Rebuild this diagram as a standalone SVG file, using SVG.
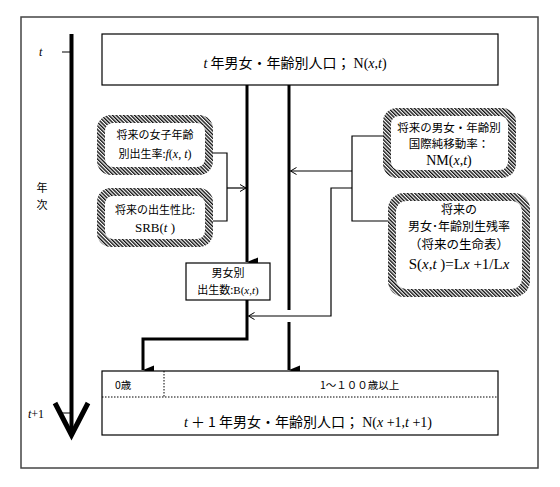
<svg xmlns="http://www.w3.org/2000/svg" width="560" height="487" viewBox="0 0 560 487">
<style>
.jp{font-family:"Noto Sans CJK JP","Noto Sans",sans-serif;fill:#000}
.sr{font-family:"Liberation Serif","Noto Sans CJK JP",serif;fill:#000}
.it{font-style:italic}
.box{fill:#fff;stroke:#000;stroke-width:1.2}
.thick{fill:none;stroke:#000;stroke-width:3}
.thin{fill:none;stroke:#000;stroke-width:1.2}
.dot{fill:none;stroke:#000;stroke-width:1;stroke-dasharray:1.5 1.5}
.hout{fill:url(#hatch)}
.hin{fill:#fff}
</style>
<defs>
<pattern id="hatch" width="2.6" height="2.6" patternUnits="userSpaceOnUse" patternTransform="rotate(-45)">
<rect width="2.6" height="2.6" fill="#fff"/>
<line x1="0.7" y1="0" x2="0.7" y2="2.6" stroke="#000" stroke-width="1.3"/>
</pattern>
<marker id="fa" markerWidth="10" markerHeight="12" refX="5" refY="11" orient="auto-start-reverse" markerUnits="userSpaceOnUse" viewBox="0 0 10 12">
<path d="M0.5,0 L9.5,0 L5,11 Z" fill="#000"/>
</marker>
<marker id="oa" markerWidth="8" markerHeight="8" refX="7" refY="4" orient="auto" markerUnits="userSpaceOnUse" viewBox="0 0 8 8">
<path d="M1,0.5 L7,4 L1,7.5" fill="none" stroke="#000" stroke-width="1"/>
</marker>
</defs>
<rect width="560" height="487" fill="#fff"/>
<rect x="21" y="17" width="517" height="451" fill="none" stroke="#444" stroke-width="1.5"/>

<g id="timeaxis">
<path d="M71.5,34 V432" fill="none" stroke="#000" stroke-width="4"/>
<path d="M55,403 L71.5,435 L88,403" fill="none" stroke="#000" stroke-width="5" stroke-linejoin="miter"/>
<path d="M62,52 H72 M62,413 H72" fill="none" stroke="#000" stroke-width="1.2"/>
<text x="39" y="56" class="sr it" font-size="12">t</text>
<text x="28" y="418" class="sr" font-size="12"><tspan class="it">t</tspan>+1</text>
<text x="42" y="192" class="jp" font-size="11" text-anchor="middle">年</text>
<text x="42" y="209" class="jp" font-size="11" text-anchor="middle">次</text>
</g>

<g id="connectors">
<path class="thick" d="M247,85 V262" marker-end="url(#fa)"/>
<path class="thick" d="M289,85 V310"/>
<path class="thick" d="M289,322 V370" marker-end="url(#fa)"/>
<path class="thick" d="M247,300 V339 H143 V370" marker-end="url(#fa)"/>
<path class="thin" d="M213,153 H227 V221 H213"/>
<path class="thin" d="M227,188 H246" marker-end="url(#oa)"/>
<path class="thin" d="M383,136 H352 V221 H389"/>
<path class="thin" d="M352,171 H290.5" marker-end="url(#oa)"/>
<path class="thin" d="M352,188 H331 V316 H248.5" marker-end="url(#oa)"/>
</g>

<g id="top">
<rect class="box" x="102" y="34" width="396" height="51"/>
<text x="295" y="68" class="jp" font-size="14" text-anchor="middle"><tspan class="sr it">t</tspan> 年男女・年齢別人口； <tspan class="sr">N(</tspan><tspan class="sr it">x</tspan><tspan class="sr">,</tspan><tspan class="sr it">t</tspan><tspan class="sr">)</tspan></text>
</g>

<g id="fert">
<rect class="hout" x="97" y="115" width="116" height="60" rx="14"/>
<rect class="hin" x="105" y="123" width="100" height="44" rx="8"/>
<text x="155" y="139" class="jp" font-size="11" text-anchor="middle">将来の女子年齢</text>
<text x="155" y="158" class="jp" font-size="11" text-anchor="middle">別出生率:<tspan class="sr it" font-size="12">f</tspan><tspan class="sr" font-size="12">(</tspan><tspan class="sr it" font-size="12">x</tspan><tspan class="sr" font-size="12">, </tspan><tspan class="sr it" font-size="12">t</tspan><tspan class="sr" font-size="12">)</tspan></text>
</g>

<g id="srb">
<rect class="hout" x="97" y="188" width="116" height="59" rx="14"/>
<rect class="hin" x="105" y="196" width="100" height="43" rx="8"/>
<text x="155" y="214" class="jp" font-size="11" text-anchor="middle">将来の出生性比:</text>
<text x="155" y="232" class="sr" font-size="13" text-anchor="middle">SRB(<tspan class="it">t</tspan> )</text>
</g>

<g id="nm">
<rect class="hout" x="383" y="108" width="133" height="70" rx="14"/>
<rect class="hin" x="391" y="116" width="117" height="54" rx="8"/>
<text x="449" y="132" class="jp" font-size="11.5" text-anchor="middle">将来の男女・年齢別</text>
<text x="449" y="148" class="jp" font-size="11.5" text-anchor="middle">国際純移動率：</text>
<text x="449" y="165" class="sr" font-size="14" text-anchor="middle">NM(<tspan class="it">x</tspan>,<tspan class="it">t</tspan>)</text>
</g>

<g id="surv">
<rect class="hout" x="388" y="193" width="142" height="104" rx="16"/>
<rect class="hin" x="396" y="201" width="126" height="88" rx="10"/>
<text x="459" y="214" class="jp" font-size="12" text-anchor="middle">将来の</text>
<text x="459" y="231" class="jp" font-size="12" text-anchor="middle">男女･年齢別生残率</text>
<text x="459" y="249" class="jp" font-size="12.5" text-anchor="middle">（将来の生命表）</text>
<text x="459" y="269" class="sr" font-size="15" text-anchor="middle">S(<tspan class="it">x</tspan>,<tspan class="it">t</tspan> )=L<tspan class="it">x</tspan> +1/L<tspan class="it">x</tspan></text>
</g>

<g id="birth">
<rect class="box" x="186" y="263" width="84" height="37"/>
<text x="228" y="277" class="jp" font-size="11" text-anchor="middle">男女別</text>
<text x="228" y="294" class="jp" font-size="11" text-anchor="middle">出生数:<tspan class="sr">B(</tspan><tspan class="sr it">x</tspan><tspan class="sr">,</tspan><tspan class="sr it">t</tspan><tspan class="sr">)</tspan></text>
</g>

<g id="bottom">
<rect class="box" x="102" y="371" width="396" height="64"/>
<path class="dot" d="M102,397 H498 M164,371 V397"/>
<text x="115" y="389" class="jp" font-size="10.5">0歳</text>
<text x="320" y="389" class="jp" font-size="10.5">1～１００歳以上</text>
<text x="308" y="427" class="jp" font-size="14" text-anchor="middle"><tspan class="sr it">t</tspan> ＋ 1 年男女・年齢別人口； <tspan class="sr">N(</tspan><tspan class="sr it">x</tspan><tspan class="sr"> +1,</tspan><tspan class="sr it">t</tspan><tspan class="sr"> +1)</tspan></text>
</g>
</svg>
